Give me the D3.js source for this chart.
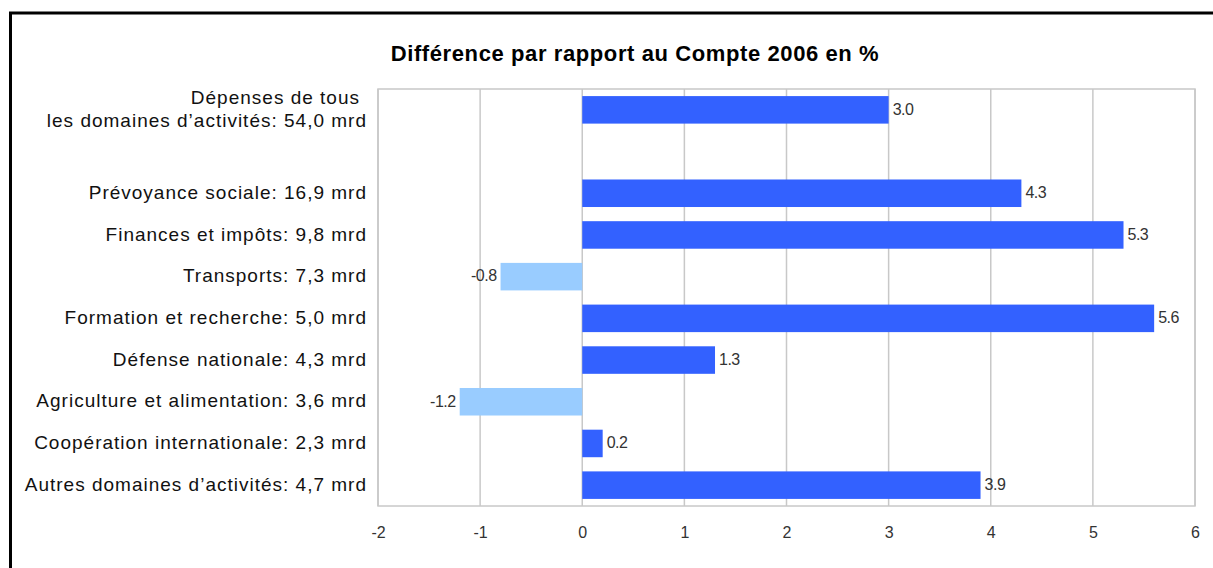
<!DOCTYPE html>
<html>
<head>
<meta charset="utf-8">
<script src="https://cdn.jsdelivr.net/npm/d3@7"></script>
<style>
  body { margin: 0; background: #fff; }
  svg { display: block; }
</style>
</head>
<body>
<div id="chart"></div>
<script>
// data
var categories = [
    "Dépenses de tous|les domaines d’activités: 54,0 mrd",
    "",
    "Prévoyance sociale: 16,9 mrd",
    "Finances et impôts: 9,8 mrd",
    "Transports: 7,3 mrd",
    "Formation et recherche: 5,0 mrd",
    "Défense nationale: 4,3 mrd",
    "Agriculture et alimentation: 3,6 mrd",
    "Coopération internationale: 2,3 mrd",
    "Autres domaines d’activités: 4,7 mrd"
];
var values = [3.0, null, 4.3, 5.3, -0.8, 5.6, 1.3, -1.2, 0.2, 3.9];
var xTicks = [-2, -1, 0, 1, 2, 3, 4, 5, 6];
var title = "Différence par rapport au Compte 2006 en %";

var W = 1213, H = 568;
var margin = { top: 89, right: 18, bottom: 62, left: 378 },
    width = W - margin.left - margin.right,
    height = H - margin.top - margin.bottom;

var font = "Liberation Sans, Arial, sans-serif";

var svg = d3.select("#chart")
    .append("svg")
    .attr("width", W)
    .attr("height", H);

// outer frame (cut off at right and bottom)
svg.append("path")
    .attr("d", "M10.5,568 L10.5,13 L1213,13")
    .attr("fill", "none")
    .attr("stroke", "#000")
    .attr("stroke-width", 3);

svg.append("text")
    .attr("x", 635)
    .attr("y", 61)
    .attr("text-anchor", "middle")
    .style("font-family", font)
    .style("font-weight", "bold")
    .style("font-size", "22px")
    .style("letter-spacing", "0.6px")
    .text(title);

var g = svg.append("g")
    .attr("transform", "translate(" + margin.left + "," + margin.top + ")");

var x = d3.scaleLinear()
    .domain([-2, 6])
    .range([0, width]);

var y = d3.scaleBand()
    .domain(d3.range(categories.length))
    .range([0, height])
    .paddingInner(0.34)
    .paddingOuter(0.17);

// grid
g.append("g")
    .selectAll("line")
    .data(xTicks)
    .enter()
    .append("line")
    .attr("x1", d => x(d))
    .attr("x2", d => x(d))
    .attr("y1", 0)
    .attr("y2", height)
    .attr("stroke", "#c8c8c8")
    .attr("stroke-width", 1.5);

g.append("rect")
    .attr("x", 0)
    .attr("y", 0)
    .attr("width", width)
    .attr("height", height)
    .attr("fill", "none")
    .attr("stroke", "#c8c8c8")
    .attr("stroke-width", 1.5);

// x axis labels
var xAxis = g.append("g")
    .attr("transform", "translate(0," + height + ")")
    .call(d3.axisBottom(x).tickValues(xTicks).tickSize(0).tickPadding(21)
        .tickFormat(d => String(d)));
xAxis.select(".domain").remove();
xAxis.selectAll("text")
    .style("font-family", font)
    .style("font-size", "16px")
    .attr("fill", "#333");

// bars
var bars = categories.map(function (c, i) { return { i: i, v: values[i] }; })
    .filter(d => d.v !== null);

g.append("g")
    .selectAll("rect")
    .data(bars)
    .enter()
    .append("rect")
    .attr("x", d => x(Math.min(0, d.v)))
    .attr("y", d => y(d.i))
    .attr("width", d => Math.abs(x(d.v) - x(0)))
    .attr("height", y.bandwidth())
    .attr("fill", d => d.v < 0 ? "#99ccff" : "#3361ff");

// value labels
g.append("g")
    .selectAll("text")
    .data(bars)
    .enter()
    .append("text")
    .attr("x", d => d.v < 0 ? x(d.v) - 4 : x(d.v) + 4)
    .attr("y", d => y(d.i) + y.bandwidth() / 2)
    .attr("dy", "0.3em")
    .attr("text-anchor", d => d.v < 0 ? "end" : "start")
    .style("font-family", font)
    .style("font-size", "16px")
    .style("letter-spacing", "-0.5px")
    .attr("fill", "#333")
    .text(d => d.v.toFixed(1));

// category labels
var labels = g.append("g")
    .selectAll("text")
    .data(categories.map((c, i) => ({ i: i, c: c })).filter(d => d.c !== ""))
    .enter()
    .append("text")
    .attr("x", -12)
    .attr("y", d => y(d.i) + y.bandwidth() / 2)
    .attr("text-anchor", "end")
    .style("font-family", font)
    .style("font-size", "19px")
    .style("letter-spacing", "1px")
    .attr("fill", "#111");

labels.each(function (d) {
    var lines = d.c.split("|");
    var t = d3.select(this);
    var start = -(lines.length - 1) * 0.6 + 0.3;
    lines.forEach(function (l, k) {
        t.append("tspan")
            .attr("x", k == 0 && lines.length > 1 ? -18 : -11)
            .attr("dy", (k == 0 ? start : 1.2) + "em")
            .text(l);
    });
});
</script>
</body>
</html>
